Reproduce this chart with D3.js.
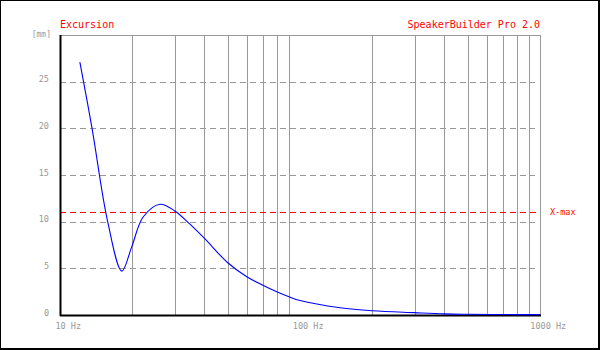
<!DOCTYPE html>
<html>
<head>
<meta charset="utf-8">
<script src="https://cdn.jsdelivr.net/npm/d3@7"></script>
<style>
  body { margin: 0; background: #fff; }
  svg text { font-family: "DejaVu Sans Mono", monospace; }
</style>
</head>
<body>
<div id="content"></div>
<script>
// excursion curve (Hz, mm)
var freqs = [12.1, 13.6, 15.8, 18.1, 19.9, 22.2, 26.1, 30.1, 34.8, 40, 50, 60, 70, 80, 90, 100, 147, 200, 300, 400, 500, 700, 1000];
var excursion = [27.1, 20, 10, 4.7, 7.3, 10.5, 11.87, 11.15, 9.73, 8.2, 5.6, 4.1, 3.2, 2.5, 1.96, 1.55, 0.78, 0.46, 0.25, 0.12, 0.08, 0.05, 0.04];
var xmax = 11;

var yTicks = [0, 5, 10, 15, 20, 25];
var yGrid = [5, 10, 15, 20, 25];
var xLabels = [10, 100, 1000];
var xGrid = [20, 30, 40, 50, 60, 70, 80, 90, 200, 300, 400, 500, 600, 700, 800, 900];

var W = 600, H = 350;
var pL = 60, pR = 540, pT = 35, pB = 315;
var grey = "#999999";

var svg = d3.select("#content").append("svg").attr("width", W).attr("height", H);

// outer frame (thicker on right/bottom)
svg.append("rect").attr("x", 0.5).attr("y", 0.5).attr("width", W - 2).attr("height", H - 2)
  .attr("fill", "#fff").attr("stroke", "#000").attr("stroke-width", 1);
svg.append("line").attr("x1", W - 1).attr("x2", W - 1).attr("y1", 0).attr("y2", H).attr("stroke", "#000").attr("stroke-width", 2);
svg.append("line").attr("x1", 0).attr("x2", W).attr("y1", H - 1).attr("y2", H - 1).attr("stroke", "#000").attr("stroke-width", 2);

var x = d3.scaleLog().domain([10, 1000]).range([pL, pR]);
var y = d3.scaleLinear().domain([0, 30]).range([pB, pT]);

// vertical grid
svg.append("g").selectAll("line").data(xGrid).enter().append("line")
  .attr("x1", function(d) { return Math.round(x(d)) + 0.5; })
  .attr("x2", function(d) { return Math.round(x(d)) + 0.5; })
  .attr("y1", pT).attr("y2", pB)
  .attr("stroke", grey).attr("stroke-width", 1);

// horizontal dashed grid
svg.append("g").selectAll("line").data(yGrid).enter().append("line")
  .attr("x1", pL).attr("x2", pR - 5)
  .attr("y1", function(d) { return Math.round(y(d)) + 0.5; })
  .attr("y2", function(d) { return Math.round(y(d)) + 0.5; })
  .attr("stroke", grey).attr("stroke-width", 1).attr("stroke-dasharray", "6,4");

// top and right border of plot
svg.append("line").attr("x1", pL).attr("x2", pR + 0.5).attr("y1", pT + 0.5).attr("y2", pT + 0.5).attr("stroke", grey);
svg.append("line").attr("x1", pR + 0.5).attr("x2", pR + 0.5).attr("y1", pT).attr("y2", pB).attr("stroke", grey);

// X-max line
svg.append("line").attr("x1", pL).attr("x2", pR)
  .attr("y1", Math.round(y(xmax)) + 0.5).attr("y2", Math.round(y(xmax)) + 0.5)
  .attr("stroke", "#ff0000").attr("stroke-width", 1.2).attr("stroke-dasharray", "6,4");
svg.append("text").attr("x", 550).attr("y", y(xmax) + 2.5)
  .attr("fill", "#ff0000").attr("font-size", 8.5).text("X-max");

// axes (black left + bottom)
svg.append("line").attr("x1", pL + 0.5).attr("x2", pL + 0.5).attr("y1", pT).attr("y2", pB + 1).attr("stroke", "#000").attr("stroke-width", 2);
svg.append("line").attr("x1", pL).attr("x2", pR + 1).attr("y1", pB + 0.5).attr("y2", pB + 0.5).attr("stroke", "#000").attr("stroke-width", 2);

// y tick labels
var yAxis = d3.axisLeft(y).tickValues(yTicks).tickSize(0).tickPadding(0);
var gy = svg.append("g").attr("transform", "translate(49,0)").call(yAxis);
gy.select(".domain").remove();
gy.selectAll("text").attr("font-family", "DejaVu Sans Mono, monospace").attr("font-size", 8.5)
  .attr("fill", grey).attr("dy", 0).attr("text-anchor", "end");

svg.append("text").attr("x", 51).attr("y", 36.5).attr("text-anchor", "end")
  .attr("fill", grey).attr("font-size", 8).text("[mm]");

// x tick labels: number part centred on the tick
var xAxis = d3.axisBottom(x).tickValues(xLabels).tickSize(0).tickPadding(0)
  .tickFormat(function(d) { return d + " Hz"; });
var gx = svg.append("g").attr("transform", "translate(0," + 329 + ")").call(xAxis);
gx.select(".domain").remove();
gx.selectAll("text").attr("font-family", "DejaVu Sans Mono, monospace").attr("font-size", 8.5)
  .attr("fill", grey).attr("dy", 0).attr("text-anchor", "start")
  .attr("dx", function(d) { return -String(d).length * 5.1 / 2; });

// excursion curve
var pts = freqs.map(function(f, i) { return [f, excursion[i]]; });
var line = d3.line().x(function(d) { return x(d[0]); }).y(function(d) { return y(d[1]); })
  .curve(d3.curveCatmullRom.alpha(0.5));
svg.append("path").datum(pts).attr("d", line)
  .attr("fill", "none").attr("stroke", "#0000ff").attr("stroke-width", 1.1);

// titles
svg.append("text").attr("x", 60).attr("y", 28).attr("fill", "#ff0000").attr("font-size", 10).text("Excursion");
svg.append("text").attr("x", 540).attr("y", 28).attr("text-anchor", "end")
  .attr("fill", "#ff0000").attr("font-size", 10).text("SpeakerBuilder Pro 2.0");
</script>
</body>
</html>
